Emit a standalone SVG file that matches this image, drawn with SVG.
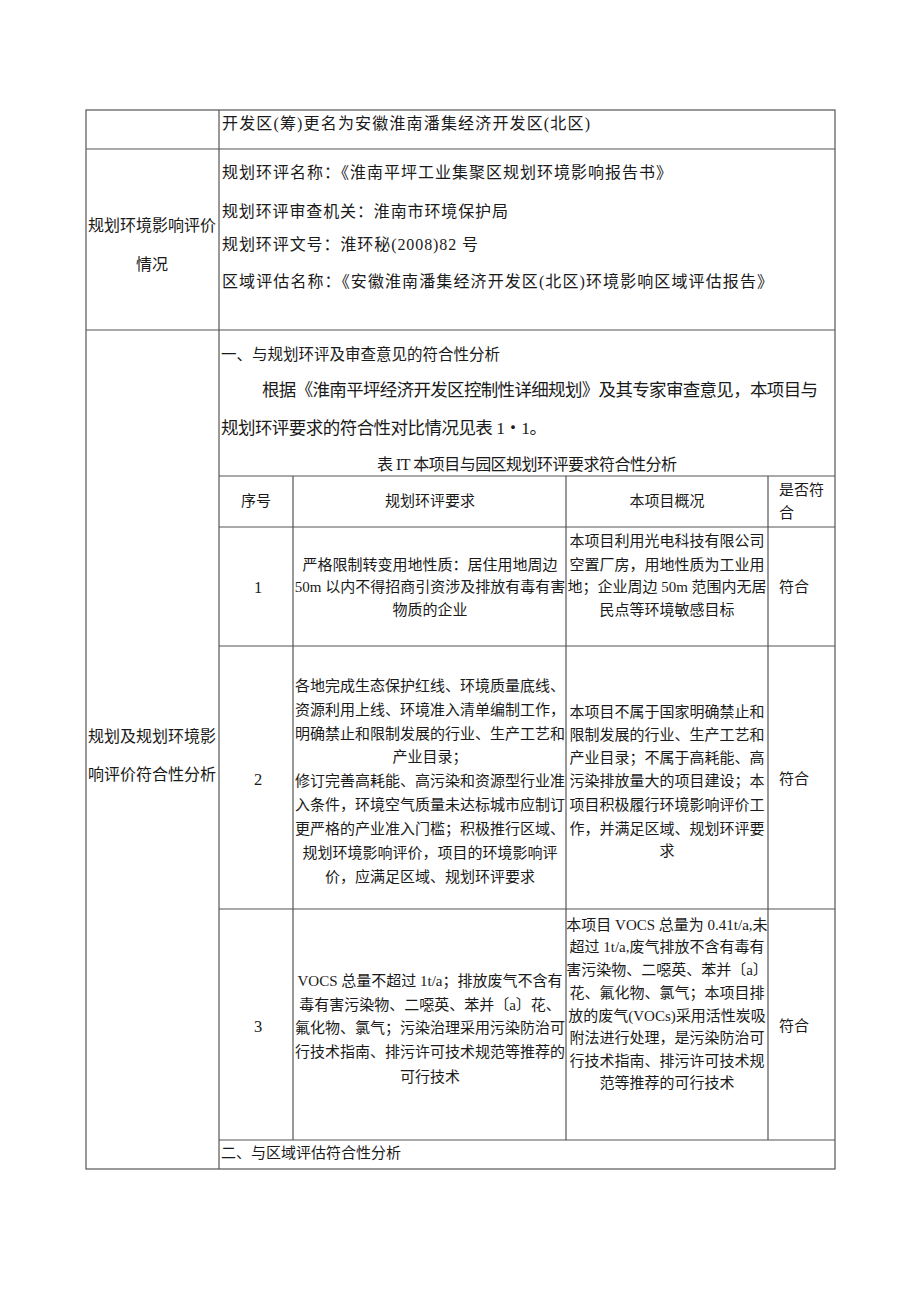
<svg xmlns="http://www.w3.org/2000/svg" width="920" height="1301" viewBox="0 0 920 1301">
<style>
.t{font-family:"Liberation Serif","Noto Sans CJK SC",serif;fill:#1a1a1a;font-size:15px}
.m{text-anchor:middle}
.b16{font-size:16px}
.b18{font-size:17.5px}
.num{font-size:16.5px}
.ln{stroke:#555;stroke-width:1.2;fill:none}
</style>
<rect width="920" height="1301" fill="#fff"/>
<g id="grid">
<rect class="ln" x="86" y="110" width="749" height="1059"/>
<line class="ln" x1="219" y1="110" x2="219" y2="1169"/>
<line class="ln" x1="86" y1="149" x2="835" y2="149"/>
<line class="ln" x1="86" y1="330" x2="835" y2="330"/>
</g>
<g id="inner-table">
<line class="ln" x1="219" y1="476" x2="835" y2="476"/>
<line class="ln" x1="219" y1="527" x2="835" y2="527"/>
<line class="ln" x1="219" y1="646" x2="835" y2="646"/>
<line class="ln" x1="219" y1="909" x2="835" y2="909"/>
<line class="ln" x1="219" y1="1140" x2="835" y2="1140"/>
<line class="ln" x1="293" y1="476" x2="293" y2="1140"/>
<line class="ln" x1="566" y1="476" x2="566" y2="1140"/>
<line class="ln" x1="768" y1="476" x2="768" y2="1140"/>
</g>
<g id="row-top">
<text class="t b16" x="222" y="129" textLength="368" lengthAdjust="spacing">开发区(筹)更名为安徽淮南潘集经济开发区(北区)</text>
</g>
<g id="row-plan">
<text class="t m b16" x="152" y="231">规划环境影响评价</text>
<text class="t m b16" x="152" y="270">情况</text>
<text class="t b16" x="222" y="178" textLength="450" lengthAdjust="spacing">规划环评名称：《淮南平坪工业集聚区规划环境影响报告书》</text>
<text class="t b16" x="222" y="217" textLength="286" lengthAdjust="spacing">规划环评审查机关：淮南市环境保护局</text>
<text class="t b16" x="222" y="250" textLength="256" lengthAdjust="spacing">规划环评文号：淮环秘(2008)82 号</text>
<text class="t b16" x="222" y="287" textLength="551" lengthAdjust="spacing">区域评估名称：《安徽淮南潘集经济开发区(北区)环境影响区域评估报告》</text>
</g>
<g id="row-analysis">
<text class="t m b16" x="152" y="742">规划及规划环境影</text>
<text class="t m b16" x="152" y="780">响评价符合性分析</text>
<text class="t" x="221" y="360" style="font-size:15.5px" textLength="279" lengthAdjust="spacing">一、与规划环评及审查意见的符合性分析</text>
<text class="t b18" x="262" y="396" textLength="556" lengthAdjust="spacing">根据《淮南平坪经济开发区控制性详细规划》及其专家审查意见，本项目与</text>
<text class="t b18" x="221" y="434" textLength="326" lengthAdjust="spacing">规划环评要求的符合性对比情况见表 1・1。</text>
<text class="t m b16" x="527" y="470" textLength="300" lengthAdjust="spacing">表 IT 本项目与园区规划环评要求符合性分析</text>
<text class="t" x="221" y="1158">二、与区域评估符合性分析</text>
</g>
<g id="header">
<text class="t m" x="256" y="506">序号</text>
<text class="t m" x="430" y="506">规划环评要求</text>
<text class="t m" x="667" y="506">本项目概况</text>
<text class="t" x="779" y="495">是否符</text>
<text class="t" x="779" y="518">合</text>
</g>
<g id="row1">
<text class="t m num" x="258" y="593">1</text>
<text class="t m" x="430" y="570">严格限制转变用地性质：居住用地周边</text>
<text class="t m" x="430" y="592">50m 以内不得招商引资涉及排放有毒有害</text>
<text class="t m" x="430" y="615">物质的企业</text>
<text class="t m" x="667" y="546">本项目利用光电科技有限公司</text>
<text class="t m" x="667" y="570">空置厂房，用地性质为工业用</text>
<text class="t m" x="667" y="592">地；企业周边 50m 范围内无居</text>
<text class="t m" x="667" y="615">民点等环境敏感目标</text>
<text class="t" x="779" y="592">符合</text>
</g>
<g id="row2">
<text class="t m num" x="258" y="785">2</text>
<text class="t m" x="430" y="691">各地完成生态保护红线、环境质量底线、</text>
<text class="t m" x="430" y="715">资源利用上线、环境准入清单编制工作，</text>
<text class="t m" x="430" y="739">明确禁止和限制发展的行业、生产工艺和</text>
<text class="t m" x="430" y="762">产业目录；</text>
<text class="t m" x="430" y="786">修订完善高耗能、高污染和资源型行业准</text>
<text class="t m" x="430" y="810">入条件，环境空气质量未达标城市应制订</text>
<text class="t m" x="430" y="834">更严格的产业准入门槛；积极推行区域、</text>
<text class="t m" x="430" y="858">规划环境影响评价，项目的环境影响评</text>
<text class="t m" x="430" y="882">价，应满足区域、规划环评要求</text>
<text class="t m" x="667" y="717">本项目不属于国家明确禁止和</text>
<text class="t m" x="667" y="740">限制发展的行业、生产工艺和</text>
<text class="t m" x="667" y="763">产业目录；不属于高耗能、高</text>
<text class="t m" x="667" y="786">污染排放量大的项目建设；本</text>
<text class="t m" x="667" y="810">项目积极履行环境影响评价工</text>
<text class="t m" x="667" y="834">作，并满足区域、规划环评要</text>
<text class="t m" x="667" y="856">求</text>
<text class="t" x="779" y="784">符合</text>
</g>
<g id="row3">
<text class="t m num" x="258" y="1032">3</text>
<text class="t m" x="430" y="986">VOCS 总量不超过 1t/a；排放废气不含有</text>
<text class="t m" x="430" y="1010">毒有害污染物、二噁英、苯并〔a〕花、</text>
<text class="t m" x="430" y="1033">氟化物、氯气；污染治理采用污染防治可</text>
<text class="t m" x="430" y="1057">行技术指南、排污许可技术规范等推荐的</text>
<text class="t m" x="430" y="1082">可行技术</text>
<text class="t m" x="667" y="930">本项目 VOCS 总量为 0.41t/a,未</text>
<text class="t m" x="667" y="952">超过 1t/a,废气排放不含有毒有</text>
<text class="t m" x="667" y="975">害污染物、二噁英、苯并〔a〕</text>
<text class="t m" x="667" y="998">花、氟化物、氯气；本项目排</text>
<text class="t m" x="667" y="1021">放的废气(VOCs)采用活性炭吸</text>
<text class="t m" x="667" y="1043">附法进行处理，是污染防治可</text>
<text class="t m" x="667" y="1066">行技术指南、排污许可技术规</text>
<text class="t m" x="667" y="1088">范等推荐的可行技术</text>
<text class="t" x="779" y="1031">符合</text>
</g>
</svg>
